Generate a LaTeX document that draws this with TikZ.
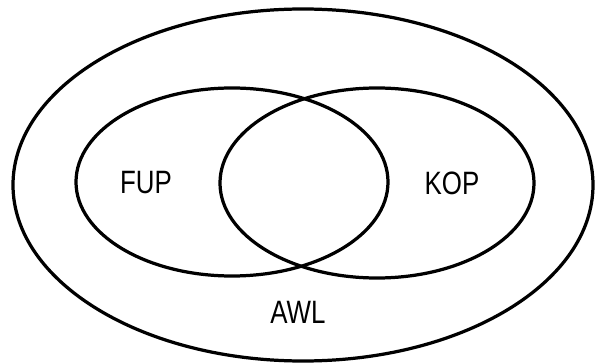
\documentclass[tikz,border=0pt]{standalone}
\usepackage{fontspec}
\setmainfont{Liberation Sans}
\usepackage{tikz}

\begin{document}
\begin{tikzpicture}[x = 0.025cm, y = 0.025cm,
        menge/.style = {line width = 2.3pt},
        mengenname/.style = {font = \fontsize{23}{23}\selectfont, xscale = 0.8}]
            \useasboundingbox (0,0) rectangle (595,363);
            \draw[menge] (303,178) ellipse (290 and 176);
            \draw[menge] (232,181) ellipse (156 and 94);
            \draw[menge] (377,180) ellipse (157 and 95);
            \node[mengenname] (fup) at (146,180) {FUP};
            \node[mengenname] (kop) at (452,180) {KOP};
            \node[mengenname] (awl) at (298,51) {AWL};
        \end{tikzpicture}
\end{document}
